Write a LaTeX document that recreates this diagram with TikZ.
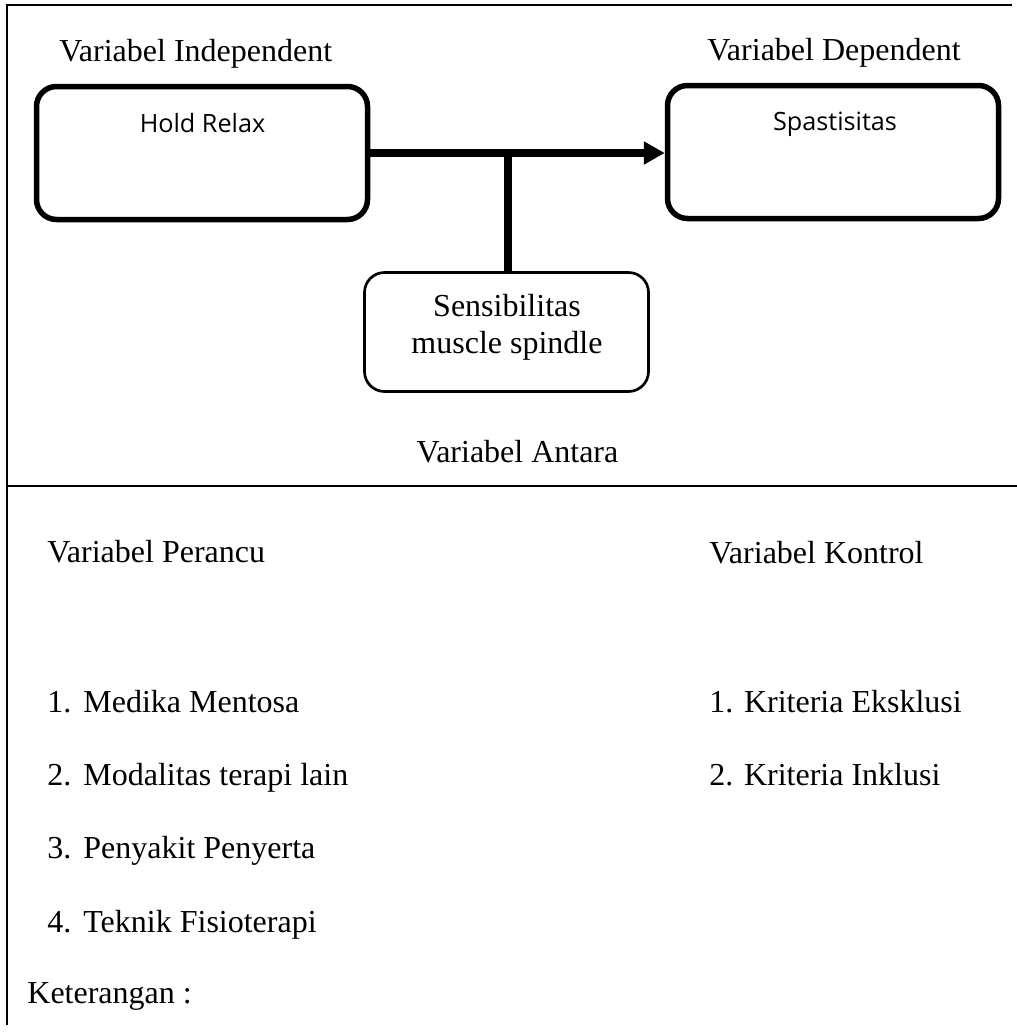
\documentclass[tikz,border=0pt]{standalone}
\usepackage{fontspec}
\setmainfont{Liberation Serif}
\newfontfamily\boxfont{Open Sans}
\usetikzlibrary{arrows.meta}
\begin{document}
\begin{tikzpicture}[x=0.5pt,y=-0.5pt,
  txt/.style={inner sep=0pt, font=\fontsize{16}{19}\selectfont},
  bigbox/.style={draw, line width=2.75pt, rounded corners=10pt, minimum width=165.5pt, minimum height=66.5pt, inner sep=0pt},
  smallbox/.style={draw, line width=1.35pt, rounded corners=10pt, minimum width=142pt, minimum height=59.5pt, inner sep=0pt},
  boxtxt/.style={inner sep=0pt, font=\boxfont\fontsize{12.6}{15}\selectfont},
  frameline/.style={line width=1.3pt},
  link/.style={line width=4pt}]
\useasboundingbox (0,0) rectangle (1017,1034);

% frame
\coordinate (tl) at (7,5);
\coordinate (tr) at (1012,5);
\coordinate (bl) at (7,1025);
\coordinate (dl) at (7,486);
\coordinate (dr) at (1017,486);
\draw[frameline] (tr) -- (tl) -- (bl);
\draw[frameline] (dl) -- (dr);

% top labels
\node[txt, anchor=base west] (indep) at (59,61) {Variabel Independent};
\node[txt, anchor=base west] (dep) at (707,60) {Variabel Dependent};

% boxes
\node[bigbox] (hold) at (202,153) {};
\node[boxtxt, anchor=base] (holdtxt) at (202.5,132) {Hold Relax};
\node[bigbox] (spas) at (833,152) {};
\node[boxtxt, anchor=base] (spastxt) at (835,130) {Spastisitas};
\node[smallbox] (sens) at (506.5,332) {};
\node[txt, anchor=base] (sens1) at (507,316) {Sensibilitas};
\node[txt, anchor=base] (sens2) at (507,353) {muscle spindle};
\node[txt, anchor=base] (antara) at (517.5,462) {Variabel Antara};

% connectors
\draw[link, -{Triangle[length=10.5pt, width=11pt]}] (hold.east |- 0,153) -- (spas.west |- 0,153);
\coordinate (j) at (508,151);
\draw[link] (j) -- (j |- sens.north);

% bottom section
\node[txt, anchor=base west] (perancu) at (47,562) {Variabel Perancu};
\node[txt, anchor=base west] (kontrol) at (709,563) {Variabel Kontrol};

\node[txt, anchor=base west] (n1) at (47,712) {1.};
\node[txt, anchor=base west] (p1) at (83,712) {Medika Mentosa};
\node[txt, anchor=base west] (n2) at (47,785) {2.};
\node[txt, anchor=base west] (p2) at (83,785) {Modalitas terapi lain};
\node[txt, anchor=base west] (n3) at (47,858) {3.};
\node[txt, anchor=base west] (p3) at (83,858) {Penyakit Penyerta};
\node[txt, anchor=base west] (n4) at (47,932) {4.};
\node[txt, anchor=base west] (p4) at (83,932) {Teknik Fisioterapi};

\node[txt, anchor=base west] (k1) at (709,712) {1. Kriteria Eksklusi};
\node[txt, anchor=base west] (k2) at (709,785) {2. Kriteria Inklusi};

\node[txt, anchor=base west] (ket) at (27,1003) {Keterangan :};
\end{tikzpicture}
\end{document}
